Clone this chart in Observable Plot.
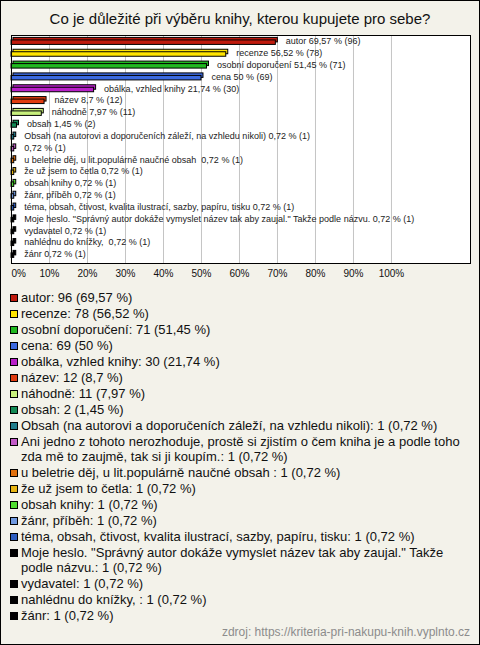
<!DOCTYPE html>
<html>
<head>
<meta charset="utf-8">
<script src="https://cdn.jsdelivr.net/npm/d3@7"></script>
<script src="https://cdn.jsdelivr.net/npm/@observablehq/plot@0.6"></script>
<style>
  html, body { margin: 0; padding: 0; background: #fff; }
  #page { position: relative; width: 480px; height: 645px; background: #f3f2ea; font-family: "Liberation Sans", Arial, sans-serif; color: #111; overflow: hidden; }
  #border { position: absolute; left: 0; top: 0; width: 480px; height: 645px; box-sizing: border-box; border: 1px solid #000; pointer-events: none; }
  #title { position: absolute; top: 10px; left: 0; width: 480px; text-align: center; font-size: 15px; line-height: 18px; }
  #chart { position: absolute; top: 30px; left: 0; }
  #legend { position: absolute; top: 290px; left: 10px; width: 464px; font-size: 13px; }
  .item { display: flex; align-items: flex-start; line-height: 15px; margin-bottom: 1px; }
  .sw { flex: none; width: 6px; height: 6px; border: 1px solid #000; margin-top: 3.5px; margin-right: 3px; }
  #source { position: absolute; top: 625px; right: 10px; font-size: 12px; line-height: 14px; color: #8c8c8c; }
</style>
</head>
<body>
<div id="page">
  <div id="title">Co je důležité při výběru knihy, kterou kupujete pro sebe?</div>
  <div id="chart"></div>
  <div id="legend"></div>
  <div id="source">zdroj: https://kriteria-pri-nakupu-knih.vyplnto.cz</div>
  <div id="border"></div>
</div>
<script>
const names = [
  "autor",
  "recenze",
  "osobní doporučení",
  "cena",
  "obálka, vzhled knihy",
  "název",
  "náhodně",
  "obsah",
  "Obsah (na autorovi a doporučeních záleží, na vzhledu nikoli)",
  "Ani jedno z tohoto nerozhoduje, prostě si zjistím o čem kniha je a podle toho zda mě to zaujmě, tak si ji koupím.",
  "u beletrie děj, u lit.populárně naučné obsah ",
  "že už jsem to četla",
  "obsah knihy",
  "žánr, příběh",
  "téma, obsah, čtivost, kvalita ilustrací, sazby, papíru, tisku",
  "Moje heslo. \"Správný autor dokáže vymyslet název tak aby zaujal.\" Takže podle názvu.",
  "vydavatel",
  "nahlédnu do knížky, ",
  "žánr"
];
// names as printed next to the bars (one long answer is shown without its text)
const chartNames = names.map((n, i) => i === 9 ? "" : n);
const counts = [96, 78, 71, 69, 30, 12, 11, 2, 1, 1, 1, 1, 1, 1, 1, 1, 1, 1, 1];
const percents = [69.57, 56.52, 51.45, 50, 21.74, 8.7, 7.97, 1.45, 0.72, 0.72, 0.72, 0.72, 0.72, 0.72, 0.72, 0.72, 0.72, 0.72, 0.72];
const colors = [
  "#bf1a0d", "#ffe400", "#20b820", "#3c6ae0", "#b820c8", "#e03c10", "#c8f07c", "#138a55",
  "#217d8c", "#c25bc8", "#e0700e", "#e6b412", "#50dc30", "#7099e0", "#2e5ec0",
  "#000000", "#000000", "#000000", "#000000"
];
const firstTick = [0];
const xTicks = [10, 20, 30, 40, 50, 60, 70, 80, 90, 100];
const gridTicks = [10, 20, 30, 40, 50, 60, 70, 80, 90, 100];

const fmt = v => String(v).replace(".", ",");
const data = names.map((n, i) => ({
  key: i, name: n, chartName: chartNames[i], count: counts[i], pct: percents[i], color: colors[i]
}));

const yRange = [5, 229.8];
const bw = (yRange[1] - yRange[0]) / names.length;
const font = "Liberation Sans, Arial, sans-serif";

const chart = Plot.plot({
  width: 480, height: 255,
  marginLeft: 11, marginRight: 10, marginTop: 5, marginBottom: 22,
  style: { background: "transparent", overflow: "visible", fontFamily: font },
  x: { domain: [0, 120.8], axis: null, label: null },
  y: { type: "band", domain: data.map(d => d.key), range: yRange, padding: 0, round: false, axis: null, label: null },
  color: { type: "identity" },
  marks: [
    Plot.frame({ fill: "white", stroke: null }),
    Plot.ruleX(gridTicks, { x: d => d, stroke: "#c4c4c4", strokeWidth: 1 }),
    Plot.barX(data, { x: "pct", y: "key", fill: "color", stroke: "black", strokeWidth: 1,
      insetTop: bw / 2 - 1, insetBottom: bw / 2 - 3.5, dx: 2, dy: -2.5 }),
    Plot.barX(data, { x: "pct", y: "key", fill: "color", stroke: "black", strokeWidth: 1,
      insetTop: bw / 2 - 1, insetBottom: bw / 2 - 3.5 }),
    Plot.text(data, { x: "pct", y: "key", dx: 10, textAnchor: "start", fontSize: 9, fill: "#222",
      text: d => (d.chartName ? d.chartName + " " : "") + fmt(d.pct) + " % (" + d.count + ")" }),
    Plot.frame({ stroke: "black", strokeWidth: 1 }),
    Plot.axisX(firstTick, { tickSize: 0, tickPadding: 6, fontSize: 10, tickFormat: d => d + "%", label: null, fill: "#111", textAnchor: "start" }),
    Plot.axisX(xTicks, { tickSize: 0, tickPadding: 6, fontSize: 10, tickFormat: d => d + "%", label: null, fill: "#111" })
  ]
});
document.getElementById("chart").appendChild(chart);

const legend = document.getElementById("legend");
data.forEach(d => {
  const row = document.createElement("div");
  row.className = "item";
  const sw = document.createElement("span");
  sw.className = "sw";
  sw.style.background = d.color;
  const t = document.createElement("span");
  t.textContent = d.name + ": " + d.count + " (" + fmt(d.pct) + " %)";
  row.appendChild(sw);
  row.appendChild(t);
  legend.appendChild(row);
});
</script>
</body>
</html>
